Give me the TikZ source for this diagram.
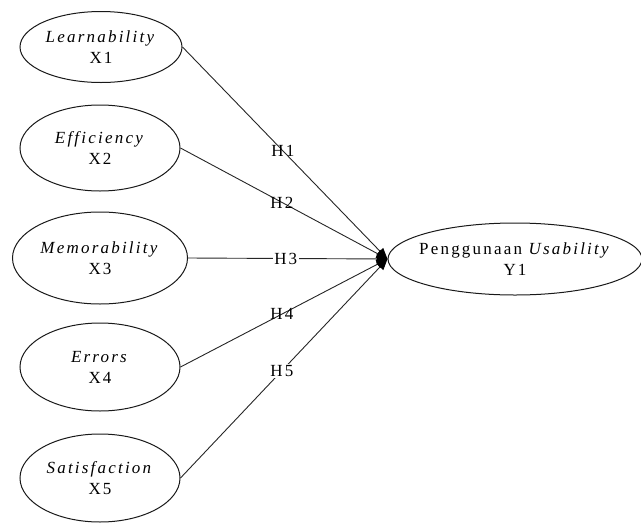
\documentclass[tikz,border=0pt]{standalone}
\usepackage{fontspec}
\setmainfont[LetterSpace=13]{Liberation Serif}
\usetikzlibrary{shapes.geometric,arrows.meta}
\begin{document}
\begin{tikzpicture}[x=1pt,y=-1pt,
  var/.style={draw=black!90, line width=1pt, ellipse, inner sep=0pt, align=center,
    font=\fontsize{17}{21}\selectfont},
  link/.style={draw=black!85, line width=0.9pt, -{Triangle[length=11pt,width=9pt,color=black,fill=black]}},
  hyp/.style={font=\fontsize{17}{21}\selectfont, inner sep=1.5pt, pos=0.49},
  hypw/.style={hyp, fill=white}]
\useasboundingbox (0,0) rectangle (641,523);
\node[var, minimum width=162pt, minimum height=71pt] (x1) at (101,47) {\textit{Learnability}\\X1};
\node[var, minimum width=160pt, minimum height=86pt] (x2) at (100,148) {\textit{Efficiency}\\X2};
\node[var, minimum width=175pt, minimum height=92pt] (x3) at (100,258) {\textit{Memorability}\\X3};
\node[var, minimum width=160pt, minimum height=88pt] (x4) at (100,367) {\textit{Errors}\\X4};
\node[var, minimum width=160pt, minimum height=88pt] (x5) at (100,478) {\textit{Satisfaction}\\X5};
\node[var, minimum width=254pt, minimum height=72pt] (y) at (515,259)
  {\makebox[140pt]{Penggunaan \textit{Usability}}\\Y1};
\draw[link] (x1.east) -- node[hyp] (h1) {H1} (y.west);
\draw[link] (x2.east) -- node[hyp] (h2) {H2} (y.west);
\draw[link] (x3.east) -- node[hypw] (h3) {H3} (y.west);
\draw[link] (x4.east) -- node[hyp] (h4) {H4} (y.west);
\draw[link] (x5.east) -- node[hypw] (h5) {H5} (y.west);
\end{tikzpicture}
\end{document}
